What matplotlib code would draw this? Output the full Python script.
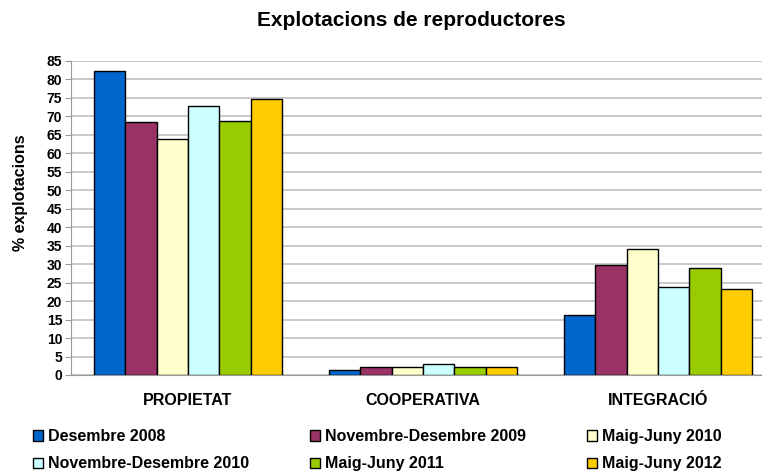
import matplotlib
matplotlib.use("Agg")
import matplotlib.pyplot as plt
import numpy as np

plt.rcParams['font.family'] = ['Liberation Sans', 'DejaVu Sans']

categories = ["PROPIETAT", "COOPERATIVA", "INTEGRACIÓ"]
series_names = ["Desembre 2008", "Novembre-Desembre 2009", "Maig-Juny 2010",
                "Novembre-Desembre 2010", "Maig-Juny 2011", "Maig-Juny 2012"]
values = [
    [82.3, 1.4, 16.2],
    [68.5, 2.2, 29.8],
    [63.9, 2.2, 34.2],
    [72.9, 3.1, 23.8],
    [68.8, 2.2, 28.9],
    [74.6, 2.2, 23.4],
]
colors = ["#0066CC", "#993366", "#FFFFCC", "#CCFFFF", "#99CC00", "#FFCC00"]
yticks = list(range(0, 90, 5))

W, H = 762, 472
fig = plt.figure(figsize=(W / 100, H / 100), dpi=100)
ax_left, ax_right, ax_top, ax_bot = 70.5, 775.5, 61, 375
ax = fig.add_axes([ax_left / W, 1 - ax_bot / H, (ax_right - ax_left) / W, (ax_bot - ax_top) / H])

n = len(series_names)
x = np.arange(len(categories))
gw = 0.8
bw = gw / n
handles = []
for i in range(n):
    b = ax.bar(x - gw / 2 + bw * (i + 0.5), values[i], width=bw, color=colors[i],
               edgecolor="black", linewidth=1.0, label=series_names[i], zorder=3)
    handles.append(b)

ax.set_xlim(-0.5, 2.5)
ax.set_ylim(0, 85)
ax.set_yticks(yticks)
ax.set_yticklabels([str(t) for t in yticks], fontsize=10, fontweight="bold")
ax.set_xticks(x)
ax.set_xticklabels(categories, fontsize=11.5, fontweight="bold")
ax.tick_params(axis="x", length=0, pad=13)
ax.tick_params(axis="y", length=4, color="#999999", pad=2)
ax.grid(axis="y", color="#C0C0C0", linewidth=1.2, zorder=0)
for s in ["top", "right"]:
    ax.spines[s].set_visible(False)
ax.spines["left"].set_color("#999999")
ax.spines["bottom"].set_color("#999999")
ax.set_ylabel("% explotacions", fontsize=11.5, fontweight="bold")
ax.yaxis.set_label_coords((28 - ax_left) / (ax_right - ax_left), (ax_bot - 193) / (ax_bot - ax_top))

fig.text(411 / W, 1 - 20 / H, "Explotacions de reproductores", fontsize=15,
         fontweight="bold", ha="center", va="center")

order = [0, 3, 1, 4, 2, 5]
fig.legend([handles[i] for i in order], [series_names[i] for i in order],
           ncol=3, loc="upper left", bbox_to_anchor=(25 / W, 1 - 421 / H), frameon=False,
           prop={"size": 11.5, "weight": "bold"}, handlelength=0.65, handleheight=0.65,
           handletextpad=0.3, columnspacing=3.8, labelspacing=0.78, borderpad=0)

fig.savefig("out.png", dpi=100)
